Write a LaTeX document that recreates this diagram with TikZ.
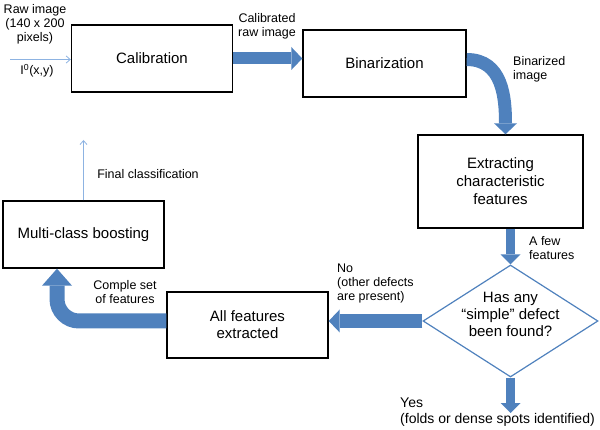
\documentclass[tikz,border=0pt]{standalone}
\usepackage{fontspec}
\setmainfont{Liberation Sans}
\usetikzlibrary{arrows.meta,shapes.geometric}
\definecolor{ablue}{HTML}{4F81BD}
\definecolor{lblue}{HTML}{8DB3E2}
\begin{document}
\begin{tikzpicture}[x=1pt,y=-1pt,
  box/.style={draw=black,line width=1.4pt,inner sep=2pt,align=center,font=\fontsize{15}{18}\selectfont},
  lab/.style={inner sep=0pt,font=\fontsize{12.5}{14}\selectfont},
  thin/.style={draw=lblue,line width=0.8pt,-{Straight Barb[length=4pt,width=7pt]}},
  bigarrow/.style={draw=ablue,line width=#1},
  tipA/.style={-{Triangle[width=23pt,length=11pt,line width=0pt]}},
  tipB/.style={-{Triangle[width=20pt,length=10pt,line width=0pt]}},
  tipC/.style={-{Triangle[width=30pt,length=17pt,line width=0pt]}}]
\useasboundingbox (0,0) rectangle (600,430);

% boxes
\node[box,minimum width=161pt,minimum height=67pt] (cal) at (152,58.5) {Calibration};
\node[box,minimum width=163pt,minimum height=67pt] (bin) at (384.5,63.5) {Binarization};
\node[box,minimum width=165pt,minimum height=93pt] (ext) at (500.5,181.5) {Extracting\\characteristic\\features};
\node[diamond,draw=ablue,line width=1.2pt,minimum width=175pt,minimum height=112pt,inner sep=0pt] (dia) at (510.5,321) {};
\node[align=center,inner sep=0pt,font=\fontsize{15}{17}\selectfont] (diat) at (510.5,314) {Has any\\“simple” defect\\been found?};
\node[box,minimum width=161pt,minimum height=66pt,font=\fontsize{15}{17}\selectfont] (allf) at (247.5,325) {All features\\extracted};
\node[box,minimum width=161pt,minimum height=67pt] (mcb) at (83.5,234.5) {Multi-class boosting};

% labels
\node[lab,align=center] (raw) at (35,24) {Raw image\\(140 x 200\\pixels)};
\node[lab] (i0) at (37,71) {I\textsuperscript{0}(x,y)};
\node[lab,align=center] (calraw) at (267,26.5) {Calibrated\\raw image};
\node[lab,align=left,anchor=north west] (binimg) at (513,56) {Binarized\\image};
\node[lab,align=left,anchor=north west] (afew) at (529,236) {A few\\features};
\node[lab,align=left,anchor=north west,font=\fontsize{14}{15.5}\selectfont] (yes) at (400,398) {Yes\\(folds or dense spots identified)};
\node[lab,align=left,anchor=north west] (no) at (337,264) {No\\(other defects\\are present)};
\node[lab,align=center] (comple) at (125,292.5) {Comple set\\of features};
\node[lab] (finalc) at (148,174) {Final classification};

% free ends
\coordinate (rawstart) at (10,59.5);
\coordinate (finalend) at (83.5,140);
\coordinate (yesend) at (510.5,413);

% thin arrows
\draw[thin] (rawstart) -- (rawstart -| cal.west);
\draw[thin] (mcb.north) -- (finalend);

% thick arrows
\draw[bigarrow=12pt,tipA] (cal.east) -- (cal.east -| bin.west);
\draw[bigarrow=13pt,tipA] ([yshift=4pt]bin.east) to[out=0,in=90,looseness=1.1] ([xshift=5pt]ext.north);
\draw[bigarrow=9.5pt,tipB] (ext.south -| dia.north) -- (dia.north);
\draw[bigarrow=9.5pt,tipB] (dia.south) -- (yesend);
\draw[bigarrow=14pt,tipA] (dia.west) -- (dia.west -| allf.east);
\draw[bigarrow=15pt,tipC,rounded corners=22pt] (dia.west -| allf.west) -| ([xshift=-26.5pt]mcb.south);
\end{tikzpicture}
\end{document}
